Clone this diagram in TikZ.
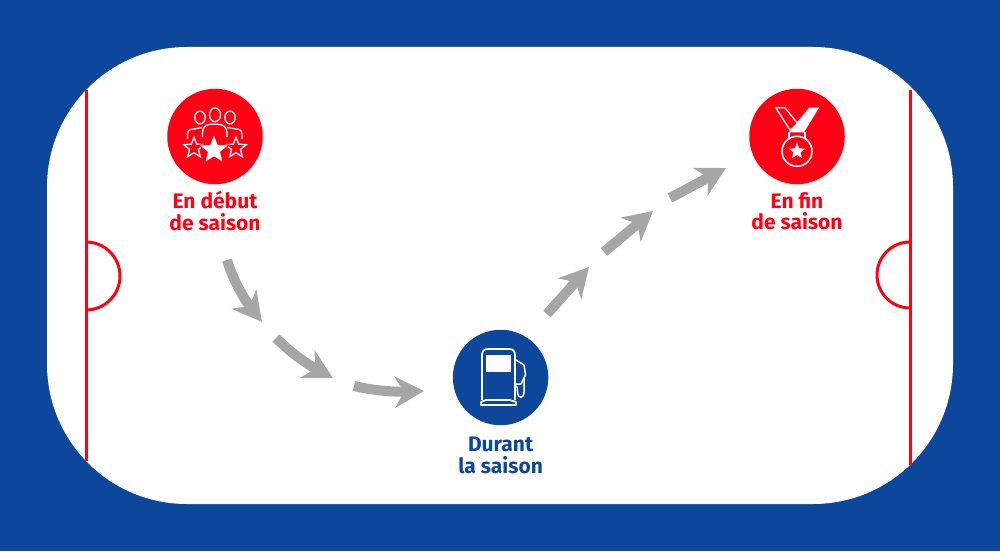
\documentclass[tikz,border=0pt]{standalone}
\usepackage{fontspec}
\setmainfont{Fira Sans}
\usetikzlibrary{positioning, arrows.meta, shapes.geometric, bending}
\definecolor{rinkblue}{HTML}{0D479B}
\definecolor{rinkred}{HTML}{FF0015}
\definecolor{flowgrey}{HTML}{A6A6A6}
\tikzset{
    x=1pt, y=-1pt, % one unit is one pixel of the picture, y goes down
    boardline/.style={draw=rinkred, line width=3pt}, % the red lines of the rink
    badge/.style={circle, fill=#1, minimum size=95.5pt, inner sep=0pt}, % round icon
    badgetext/.style={text=#1, font=\fontsize{21}{21.6}\selectfont\bfseries, align=center, inner sep=0pt}, % two lines below
    iconline/.style={draw=white, line width=1.3pt, line join=round}, % thin icon strokes
    iconstar/.style={star, star points=5, star point ratio=2.3, inner sep=0pt, minimum size=#1}, % stars of the icons
    flowarrow/.style={draw=flowgrey, line width=10pt, -{Stealth[length=29pt, width=31pt, inset=9pt, flex]}}, % grey arrows
}
\begin{document}
\begin{tikzpicture}
    \useasboundingbox (0,0) rectangle (1000,551);
    \fill[rinkblue] (0,0) rectangle (1000,551);
    \fill[white, rounded corners=140pt] (47,47) rectangle (953,504);

    % rink lines
    \draw[boardline] (86,90) -- (86,461);
    \draw[boardline] (910,90) -- (910,465);
    \draw[boardline] (86,242) arc[start angle=-90, end angle=90, radius=34];
    \draw[boardline] (910,242) arc[start angle=-90, end angle=-270, radius=33];

    % the three stages
    \node[badge=rinkred] (debut) at (215,136.5) {};
    \node[badge=rinkblue] (durant) at (500.6,377.5) {};
    \node[badge=rinkred] (fin) at (797,136.5) {};
    \node[badgetext=rinkred, below=6.5pt of debut] (debuttext) {En début\\de saison};
    \node[badgetext=rinkblue, below=11.5pt of durant] (duranttext) {Durant\\la saison};
    \node[badgetext=rinkred, below=7.5pt of fin] (fintext) {En f{}in\\de saison};

    % arrows
    \coordinate (a1) at (227,260); \coordinate (b1) at (262,322);
    \coordinate (a2) at (276,338); \coordinate (b2) at (333,378);
    \coordinate (a3) at (354,386); \coordinate (b3) at (424,391);
    \coordinate (a4) at (547,314); \coordinate (b4) at (589,267);
    \coordinate (a5) at (604,252); \coordinate (b5) at (653,211);
    \coordinate (a6) at (670,198); \coordinate (b6) at (726,168);
    \draw[flowarrow] (a1) .. controls (233,280) and (245,303) .. (b1);
    \draw[flowarrow] (a2) .. controls (292,354) and (310,367) .. (b2);
    \draw[flowarrow] (a3) .. controls (375,391) and (400,393) .. (b3);
    \draw[flowarrow] (a4) -- (b4);
    \draw[flowarrow] (a5) -- (b5);
    \draw[flowarrow] (a6) -- (b6);

    % icon: team
    \draw[iconline] (215,114.8) ellipse (5.5 and 6.9);
    \draw[iconline] (200,117.5) ellipse (5.2 and 6.4);
    \draw[iconline] (230,117.5) ellipse (5.2 and 6.4);
    \draw[iconline] (202.5,137) -- (202.5,133) .. controls (202.5,127) and (206,124.3) .. (211,124.3)
        -- (218,124.3) .. controls (223,124.3) and (227,127) .. (227,133) -- (227,137);
    \draw[iconline] (187.5,139) -- (187.5,134) .. controls (187.5,130.5) and (190,129) .. (194,129) -- (202,127.5);
    \draw[iconline] (242,139) -- (242,134) .. controls (242,130.5) and (239.5,129) .. (236,129) -- (227,127.5);
    \node[iconstar=21.5pt, draw=white, line width=1.3pt, fill=rinkred] (leftstar) at (194,148) {};
    \node[iconstar=21.5pt, draw=white, line width=1.3pt, fill=rinkred] (rightstar) at (236,148) {};
    \node[iconstar=32pt, fill=white, draw=rinkred, line width=1pt] (bigstar) at (214,150) {};

    % icon: pump
    \draw[iconline, line width=1.7pt] (482,400) -- (482,355) .. controls (482,351) and (484,349) .. (488,349)
        -- (509,349) .. controls (513,349) and (515,351) .. (515,355) -- (515,400);
    \draw[iconline, line width=1.7pt] (481,405) -- (481,402) -- (486,400) -- (510,400) -- (516,402) -- (516,405) -- cycle;
    \fill[white] (486,355) rectangle (511,372.3);
    \draw[iconline, line width=1.5pt] (516,360) -- (524,365) -- (525.5,375) -- (521,384) -- (516,384);
    \draw[iconline, line width=1.5pt] (515,385) .. controls (518,386) and (517.5,389) .. (517.5,392) .. controls (517.5,399) and (524,399) .. (524,392) -- (524,378);

    % icon: medal
    \fill[white] (809,107.7) -- (819,107.7) -- (804,132.3) -- (789,132.3) -- cycle;
    \draw[iconline] (775.7,107.7) -- (785,107.7) -- (798,124) -- (790,130) -- cycle;
    \draw[iconline] (789,132.3) -- (789,138) (805,132.3) -- (805,138);
    \draw[iconline, line width=1.6pt] (797,151.3) circle (15);
    \node[iconstar=17pt, fill=white] (medalstar) at (797,151.3) {};
\end{tikzpicture}
\end{document}
